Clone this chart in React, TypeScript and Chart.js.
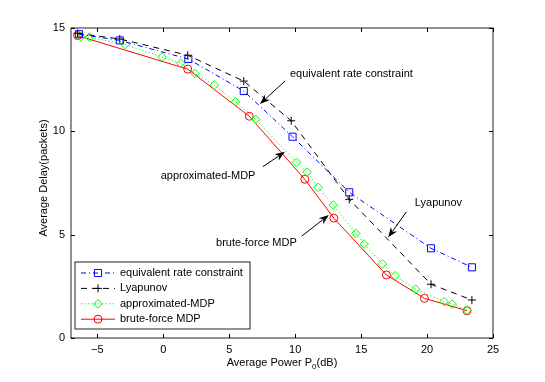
import React, { useEffect, useRef } from "react";
import { Chart, registerables } from "chart.js";

Chart.register(...registerables);

// ---------- data ----------
const seriesNames = [
  "equivalent rate constraint",
  "Lyapunov",
  "approximated-MDP",
  "brute-force MDP",
];
const ercX = [-6.4, -3.3, 1.9, 6.1, 9.8, 14.1, 20.3, 23.4];
const ercY = [14.7, 14.4, 13.5, 11.95, 9.74, 7.05, 4.34, 3.42];
const lyaX = [-6.5, -3.3, 1.85, 6.1, 9.7, 14.1, 20.3, 23.4];
const lyaY = [14.74, 14.47, 13.68, 12.43, 10.51, 6.71, 2.6, 1.84];
const amdpX = [-6.26, -5.6, -2.9, -0.1, 1.32, 2.4, 3.86, 5.48, 7.0, 10.1, 10.9, 11.74, 12.88, 14.6, 15.23, 16.62, 17.58, 19.14, 21.3, 21.9, 23.03];
const amdpY = [14.58, 14.55, 14.2, 13.6, 13.29, 12.8, 12.24, 11.43, 10.58, 8.5, 8.02, 7.29, 6.43, 5.06, 4.55, 3.58, 3.01, 2.36, 1.76, 1.64, 1.35];
const bfX = [-6.5, 1.85, 6.52, 10.73, 12.93, 16.92, 19.8, 23.03];
const bfY = [14.63, 13.01, 10.73, 7.68, 5.8, 3.05, 1.92, 1.32];

const xTicks = [-5, 0, 5, 10, 15, 20, 25];
const yTicks = [0, 5, 10, 15];
const xMin = -7;
const xMax = 25;
const yMin = 0;
const yMax = 15;

// annotations (in data coordinates)
const annLabels = ["equivalent rate constraint", "approximated-MDP", "brute-force MDP", "Lyapunov"];
const annTextX = [9.6, -0.2, 4.0, 19.07];
const annTextY = [12.77, 7.85, 4.6, 6.53];
const annTailX = [9.22, 7.55, 10.5, 18.44];
const annTailY = [12.43, 8.29, 4.93, 6.11];
const annTipX = [7.33, 9.22, 12.55, 17.05];
const annTipY = [11.32, 9.01, 5.95, 4.87];

const FONT = "Liberation Sans, Arial, Helvetica, sans-serif";

const toPts = (xs: number[], ys: number[]) => xs.map((x, i) => ({ x, y: ys[i] }));

type Style = { color: string; dash: number[]; marker: string; r: number };
const styles: Style[] = [
  { color: "#0000ff", dash: [5, 3, 1, 3], marker: "rect", r: 5 },
  { color: "#000000", dash: [6, 5], marker: "cross", r: 4 },
  { color: "#00ff00", dash: [1.2, 2.3], marker: "rectRot", r: 4.3 },
  { color: "#ff0000", dash: [], marker: "circle", r: 4 },
];

function drawMarker(ctx: CanvasRenderingContext2D, m: string, x: number, y: number, r: number, color: string) {
  ctx.save();
  ctx.setLineDash([]);
  ctx.strokeStyle = color;
  ctx.lineWidth = 1;
  ctx.beginPath();
  if (m === "rect") {
    const s = Math.SQRT1_2 * r;
    ctx.rect(x - s, y - s, 2 * s, 2 * s);
  } else if (m === "cross") {
    ctx.moveTo(x - r, y);
    ctx.lineTo(x + r, y);
    ctx.moveTo(x, y - r);
    ctx.lineTo(x, y + r);
  } else if (m === "rectRot") {
    ctx.moveTo(x - r, y);
    ctx.lineTo(x, y - r);
    ctx.lineTo(x + r, y);
    ctx.lineTo(x, y + r);
    ctx.closePath();
  } else {
    ctx.arc(x, y, r, 0, Math.PI * 2);
  }
  ctx.stroke();
  ctx.restore();
}

const decorPlugin = {
  id: "matlabDecor",
  afterDatasetsDraw(chart: any) {
    const { ctx, chartArea: a, scales } = chart;
    const xs = scales.x;
    const ys = scales.y;
    ctx.save();
    ctx.setLineDash([]);
    // frame
    ctx.strokeStyle = "#222";
    ctx.lineWidth = 1;
    ctx.strokeRect(a.left, a.top, a.right - a.left, a.bottom - a.top);
    // inner ticks
    const tl = 4;
    ctx.strokeStyle = "#000";
    ctx.beginPath();
    xTicks.forEach((v) => {
      const px = Math.round(xs.getPixelForValue(v)) + 0.5;
      ctx.moveTo(px, a.bottom);
      ctx.lineTo(px, a.bottom - tl);
      ctx.moveTo(px, a.top);
      ctx.lineTo(px, a.top + tl);
    });
    yTicks.forEach((v) => {
      const py = Math.round(ys.getPixelForValue(v)) + 0.5;
      ctx.moveTo(a.left, py);
      ctx.lineTo(a.left + tl, py);
      ctx.moveTo(a.right, py);
      ctx.lineTo(a.right - tl, py);
    });
    ctx.stroke();

    // annotations
    ctx.font = `11px ${FONT}`;
    ctx.fillStyle = "#000";
    ctx.textBaseline = "middle";
    ctx.textAlign = "left";
    annLabels.forEach((t, i) => {
      ctx.fillText(t, xs.getPixelForValue(annTextX[i]), ys.getPixelForValue(annTextY[i]));
      const x0 = xs.getPixelForValue(annTailX[i]);
      const y0 = ys.getPixelForValue(annTailY[i]);
      const x1 = xs.getPixelForValue(annTipX[i]);
      const y1 = ys.getPixelForValue(annTipY[i]);
      const ang = Math.atan2(y1 - y0, x1 - x0);
      const L = 10;
      const W = 3.8;
      const N = 7;
      const ux = Math.cos(ang);
      const uy = Math.sin(ang);
      ctx.beginPath();
      ctx.strokeStyle = "#000";
      ctx.moveTo(x0, y0);
      ctx.lineTo(x1 - ux * N, y1 - uy * N);
      ctx.stroke();
      ctx.beginPath();
      ctx.moveTo(x1, y1);
      ctx.lineTo(x1 - ux * L - uy * W, y1 - uy * L + ux * W);
      ctx.lineTo(x1 - ux * N, y1 - uy * N);
      ctx.lineTo(x1 - ux * L + uy * W, y1 - uy * L - ux * W);
      ctx.closePath();
      ctx.fill();
    });

    // x axis title with subscript
    const cx = (a.left + a.right) / 2;
    const ty = 363;
    const p1 = "Average Power P";
    const p2 = "0";
    const p3 = "(dB)";
    ctx.font = `11px ${FONT}`;
    const w1 = ctx.measureText(p1).width;
    const w3 = ctx.measureText(p3).width;
    ctx.font = `8px ${FONT}`;
    const w2 = ctx.measureText(p2).width;
    let sx = cx - (w1 + w2 + w3) / 2;
    ctx.font = `11px ${FONT}`;
    ctx.fillText(p1, sx, ty);
    sx += w1;
    ctx.font = `8px ${FONT}`;
    ctx.fillText(p2, sx, ty + 4);
    sx += w2;
    ctx.font = `11px ${FONT}`;
    ctx.fillText(p3, sx, ty);

    // y axis title
    ctx.save();
    ctx.translate(44, (a.top + a.bottom) / 2 - 5);
    ctx.rotate(-Math.PI / 2);
    ctx.textAlign = "center";
    ctx.fillText("Average Delay(packets)", 0, 0);
    ctx.restore();

    // legend
    const lx = a.left + 4;
    const ly = a.top + 234;
    const lw = 175;
    const lh = 67;
    ctx.fillStyle = "#fff";
    ctx.fillRect(lx, ly, lw, lh);
    ctx.strokeStyle = "#222";
    ctx.lineWidth = 1;
    ctx.strokeRect(lx, ly, lw, lh);
    seriesNames.forEach((name, i) => {
      const st = styles[i];
      const yy = ly + 11 + i * 15.4;
      ctx.save();
      ctx.strokeStyle = st.color;
      ctx.setLineDash(st.dash);
      ctx.beginPath();
      ctx.moveTo(lx + 6, yy);
      ctx.lineTo(lx + 40, yy);
      ctx.stroke();
      ctx.restore();
      drawMarker(ctx, st.marker, lx + 23, yy, st.r, st.color);
      ctx.fillStyle = "#000";
      ctx.font = `11px ${FONT}`;
      ctx.textAlign = "left";
      ctx.textBaseline = "middle";
      ctx.fillText(name, lx + 45, yy);
    });
    ctx.restore();
  },
};

const fmtTick = (v: any) => String(v).replace("-", "\u2212");

export default function App() {
  const ref = useRef<HTMLCanvasElement | null>(null);
  useEffect(() => {
    if (!ref.current) return;
    Chart.defaults.font.family = FONT;
    Chart.defaults.font.size = 11;
    Chart.defaults.color = "#000";
    const allX = [ercX, lyaX, amdpX, bfX];
    const allY = [ercY, lyaY, amdpY, bfY];
    const chart = new Chart(ref.current, {
      type: "line",
      data: {
        datasets: seriesNames.map((name, i) => ({
          label: name,
          data: toPts(allX[i], allY[i]),
          borderColor: styles[i].color,
          borderWidth: 1,
          borderDash: styles[i].dash,
          backgroundColor: "rgba(0,0,0,0)",
          pointStyle: styles[i].marker as any,
          pointRadius: styles[i].r,
          pointBorderColor: styles[i].color,
          pointBackgroundColor: "rgba(0,0,0,0)",
          pointBorderWidth: 1,
          tension: 0,
          fill: false,
        })),
      },
      options: {
        responsive: false,
        animation: false,
        devicePixelRatio: 1,
        layout: { padding: { top: 28, right: 52, left: 0, bottom: 0 } },
        plugins: {
          legend: { display: false },
          tooltip: { enabled: false },
        },
        scales: {
          x: {
            type: "linear",
            min: xMin,
            max: xMax,
            afterBuildTicks: (s: any) => {
              s.ticks = xTicks.map((v) => ({ value: v }));
            },
            afterFit: (s: any) => {
              s.height = 44;
            },
            grid: { display: false, drawTicks: false },
            border: { display: false },
            ticks: { padding: 5, color: "#000", font: { size: 11, family: FONT }, callback: fmtTick },
          },
          y: {
            type: "linear",
            min: yMin,
            max: yMax,
            afterBuildTicks: (s: any) => {
              s.ticks = yTicks.map((v) => ({ value: v }));
            },
            afterFit: (s: any) => {
              s.width = 71;
            },
            grid: { display: false, drawTicks: false },
            border: { display: false },
            ticks: { padding: 6, color: "#000", font: { size: 11, family: FONT }, callback: fmtTick },
          },
        },
      },
      plugins: [decorPlugin],
    });
    return () => chart.destroy();
  }, []);
  return (
    <div style={{ position: "fixed", left: 0, top: 0, width: 545, height: 382, background: "#fff" }}>
      <canvas ref={ref} width={545} height={382} style={{ width: 545, height: 382, display: "block" }} />
    </div>
  );
}
